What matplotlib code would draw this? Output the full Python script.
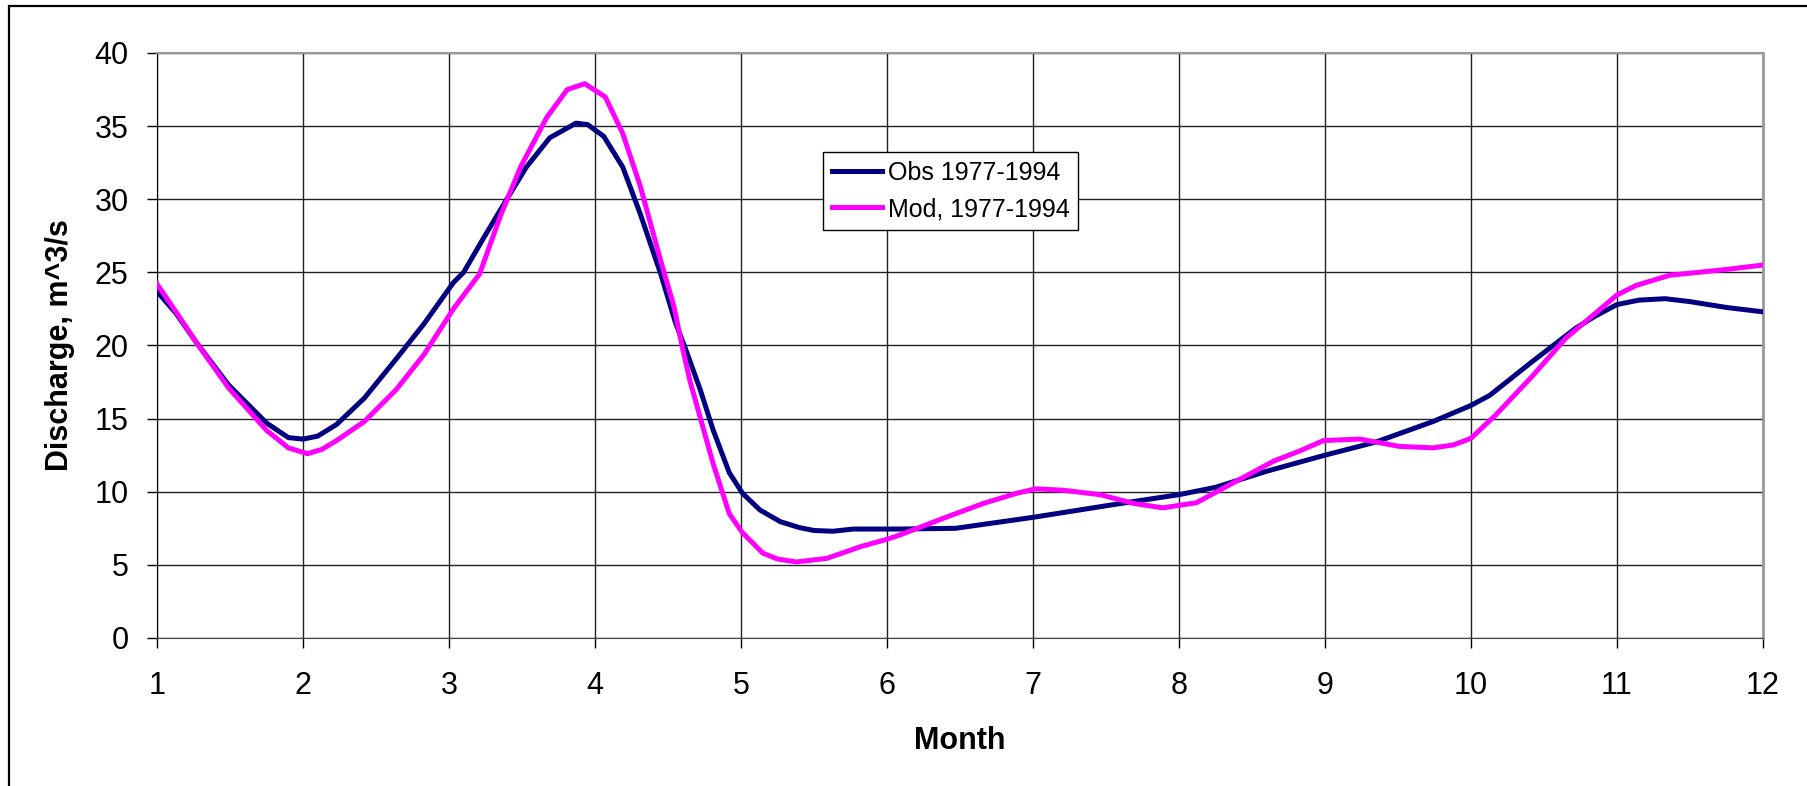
import matplotlib
matplotlib.use("Agg")
import matplotlib.pyplot as plt
from matplotlib.patches import Rectangle

plt.rcParams["font.family"] = ["Liberation Sans", "DejaVu Sans"]

# observed mean hydrograph, 1977-1994
obs_month = [1.00, 1.13, 1.27, 1.49, 1.75, 1.90, 2.00, 2.10, 2.23, 2.42,
             2.64, 2.83, 3.03, 3.10, 3.24, 3.42, 3.53, 3.69, 3.87, 3.95,
             4.06, 4.19, 4.31, 4.45, 4.55, 4.63, 4.72, 4.81, 4.92, 5.01,
             5.13, 5.27, 5.40, 5.50, 5.63, 5.77, 6.09, 6.47, 7.00, 7.57,
             8.00, 8.25, 8.60, 9.00, 9.35, 9.74, 10.00, 10.13, 10.42, 10.72,
             10.85, 11.00, 11.15, 11.33, 11.50, 11.75, 12.00]
obs_q = [23.7, 22.2, 20.2, 17.3, 14.7, 13.7, 13.6, 13.8, 14.6, 16.4,
         19.1, 21.5, 24.3, 25.0, 27.4, 30.4, 32.2, 34.2, 35.2, 35.1,
         34.3, 32.2, 29.0, 24.9, 21.6, 19.5, 17.0, 14.2, 11.3, 9.9,
         8.75, 7.95, 7.55, 7.35, 7.3, 7.45, 7.45, 7.5, 8.25, 9.15,
         9.8, 10.3, 11.4, 12.5, 13.4, 14.8, 15.9, 16.6, 18.9, 21.2,
         22.0, 22.8, 23.1, 23.2, 23.0, 22.6, 22.3]

# modelled mean hydrograph, 1977-1994
mod_month = [1.00, 1.13, 1.27, 1.49, 1.75, 1.90, 2.03, 2.13, 2.23, 2.42,
             2.64, 2.83, 3.03, 3.21, 3.35, 3.49, 3.67, 3.81, 3.93, 4.07,
             4.19, 4.31, 4.45, 4.54, 4.60, 4.65, 4.72, 4.81, 4.92, 5.01,
             5.15, 5.25, 5.38, 5.59, 5.82, 6.00, 6.09, 6.39, 6.66, 6.89,
             7.02, 7.21, 7.46, 7.69, 7.89, 8.12, 8.37, 8.65, 8.83, 8.99,
             9.24, 9.51, 9.74, 9.88, 10.00, 10.17, 10.42, 10.65, 10.84, 11.00,
             11.13, 11.36, 11.75, 12.00]
mod_q = [24.2, 22.3, 20.2, 17.1, 14.2, 13.0, 12.6, 12.9, 13.5, 14.8,
         17.0, 19.4, 22.5, 24.9, 28.8, 32.2, 35.6, 37.5, 37.9, 37.0,
         34.5, 30.9, 25.8, 22.7, 19.8, 17.6, 15.1, 11.9, 8.5, 7.2,
         5.8, 5.4, 5.2, 5.45, 6.25, 6.75, 7.05, 8.2, 9.2, 9.9,
         10.2, 10.1, 9.8, 9.2, 8.9, 9.25, 10.6, 12.1, 12.8, 13.5,
         13.6, 13.1, 13.0, 13.2, 13.65, 15.25, 17.9, 20.5, 22.1, 23.45,
         24.1, 24.8, 25.2, 25.5]

month_ticks = list(range(1, 13))
q_ticks = list(range(0, 45, 5))

fig = plt.figure(figsize=(18.07, 7.86), dpi=100)
ax = fig.add_axes([0.0869, 0.1883, 0.8887, 0.7443])

# outer chart frame
fig.patches.append(Rectangle((9 / 1807, -0.1), 1.2, 1.1 - 7 / 786 + 0.001,
                             transform=fig.transFigure, fill=False,
                             edgecolor="black", linewidth=1.6))

ax.plot(obs_month, obs_q, color="#000080", linewidth=3.6,
        label="Obs 1977-1994", solid_joinstyle="round", zorder=3)
ax.plot(mod_month, mod_q, color="#FF00FF", linewidth=3.6,
        label="Mod, 1977-1994", solid_joinstyle="round", zorder=3)

ax.set_xlim(1, 12)
ax.set_ylim(0, 40)
ax.set_xticks(month_ticks)
ax.set_yticks(q_ticks)
ax.grid(True, color="#222222", linewidth=1.0)
ax.set_axisbelow(True)

ax.tick_params(axis="both", direction="out", length=7.5, width=1.0,
               labelsize=22, colors="black")
ax.tick_params(axis="y", pad=13)
ax.tick_params(axis="x", pad=16)

ax.spines["left"].set_color("black")
ax.spines["bottom"].set_color("#444444")
ax.spines["top"].set_color("#999999")
ax.spines["right"].set_color("#999999")
ax.spines["right"].set_linewidth(2.0)
ax.spines["top"].set_linewidth(1.5)

ax.set_xlabel("Month", fontsize=22, fontweight="bold", labelpad=18)
ax.set_ylabel("Discharge, m^3/s", fontsize=22, fontweight="bold", labelpad=14)

leg = ax.legend(loc="upper left", bbox_to_anchor=(0.4147, 0.8308),
                fontsize=18, frameon=True, fancybox=False, shadow=False,
                borderaxespad=0, borderpad=0.35, handlelength=2.0,
                handletextpad=0.25, labelspacing=0.5)
leg.get_frame().set_edgecolor("black")
leg.get_frame().set_linewidth(1.0)
leg.get_frame().set_alpha(1.0)

fig.savefig("out.png", dpi=100, facecolor="white")
